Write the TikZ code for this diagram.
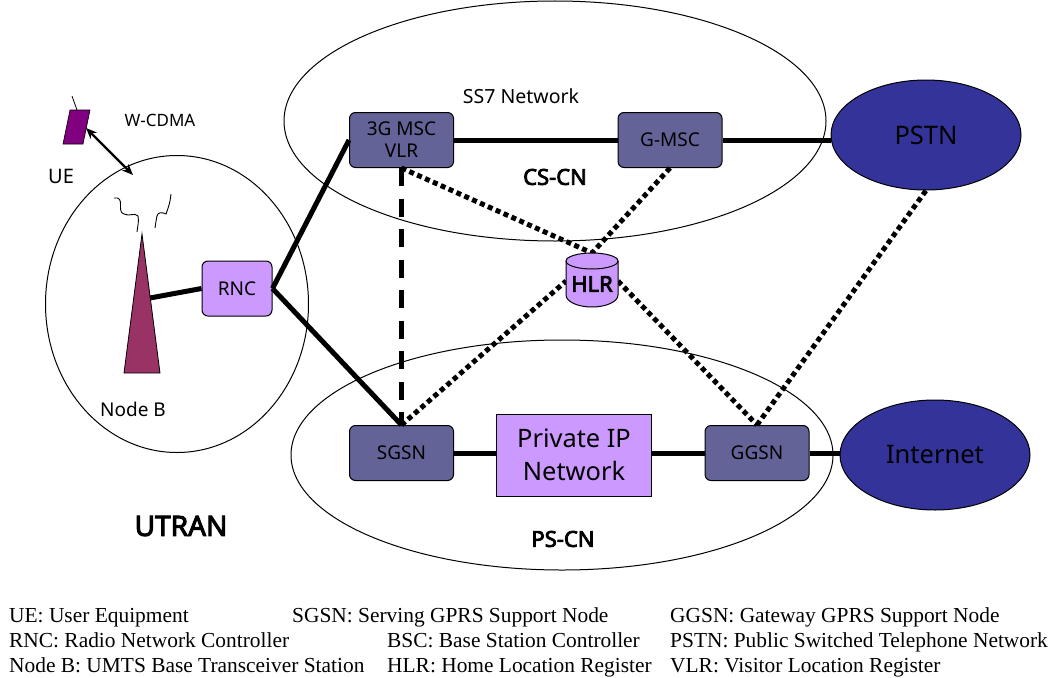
\documentclass[tikz,border=0pt]{standalone}
\usepackage{fontspec}
\setmainfont{Noto Sans}
\newfontfamily\legendfont{Liberation Serif}
\newfontfamily\fakebold[FakeBold=3.5]{Noto Sans}
\usetikzlibrary{shapes.geometric,arrows.meta}
\definecolor{slateb}{HTML}{636398}
\definecolor{lilac}{HTML}{CC99FF}
\definecolor{navyb}{HTML}{333399}
\definecolor{plum}{HTML}{800080}
\definecolor{wine}{HTML}{993366}
\tikzset{
 x=1pt,y=-1pt,
 region/.style={draw=black,line width=1pt,ellipse,inner sep=0pt,fill=none},
 cloudnet/.style={draw=black,line width=1pt,ellipse,fill=navyb,inner sep=0pt},
 corebox/.style={draw=black,line width=1pt,rounded corners=6pt,fill=slateb,minimum width=104pt,minimum height=55pt,inner sep=0pt,align=center,font=\fontsize{19}{22}\selectfont},
 rnc/.style={draw=black,line width=1pt,rounded corners=6pt,fill=lilac,minimum width=70pt,minimum height=55pt,inner sep=0pt,font=\fontsize{19}{22}\selectfont},
 ipbox/.style={draw=black,line width=1pt,fill=lilac,minimum width=155pt,minimum height=82pt,inner sep=0pt,align=center,font=\fontsize{25.4}{33}\selectfont},
 lab/.style={inner sep=0pt},
 leg/.style={inner sep=0pt,anchor=base west,font=\legendfont\fontsize{21.4}{24}\selectfont},
 thick line/.style={line width=5pt},
 dotline/.style={line width=5pt,dash pattern=on 5pt off 3.6pt},
 dashline/.style={line width=5pt,dash pattern=on 18pt off 12.5pt},
}
\begin{document}
\begin{tikzpicture}
\useasboundingbox (0,0) rectangle (1051,677);
\fill[white] (0,0) rectangle (1051,677);
% regions
\node[region,minimum width=263pt,minimum height=297pt] (utran) at (177,304) {};
\node[region,minimum width=542pt,minimum height=240pt] (cs) at (555,121) {};
\node[region,minimum width=542pt,minimum height=230pt] (ps) at (562,455) {};
% nodes
\node[cloudnet,minimum width=190pt,minimum height=110pt,font=\fontsize{25.5}{28}\selectfont] (pstn) at (926,135) {PSTN};
\node[cloudnet,minimum width=190pt,minimum height=110pt,font=\fontsize{25.5}{28}\selectfont] (inet) at (935,455) {Internet};
\node[corebox] (msc) at (401.5,140) {3G MSC\\VLR};
\node[corebox] (gmsc) at (670,140) {G-MSC};
\node[corebox] (sgsn) at (401.5,453) {SGSN};
\node[corebox] (ggsn) at (757,453) {GGSN};
\node[ipbox] (ip) at (574,455) {Private IP\\Network};
\node[rnc] (rncn) at (237,288.5) {RNC};
% tower
\coordinate (towertop) at (142,234);
\coordinate (towerbase) at (150,298);
\fill[wine,draw=black,line width=0.8pt] (towertop) -- (160,373) -- (124,373) -- cycle;
% HLR anchor points
\coordinate (hlrtop) at (592,253);
\coordinate (hlrw) at (566,281);
\coordinate (hlre) at (618,281);
% connectors
\draw[thick line] (towerbase) -- (rncn.west);
\draw[thick line] (rncn.east) -- (msc.west);
\draw[thick line] (rncn.east) -- (sgsn.north);
\draw[thick line] (msc.east) -- (gmsc.west);
\draw[thick line] (gmsc.east) -- (pstn.west |- gmsc.east);
\draw[thick line] (sgsn.east) -- (ip.west |- sgsn.east);
\draw[thick line] (ip.east |- ggsn.west) -- (ggsn.west);
\draw[thick line] (ggsn.east) -- (inet.west |- ggsn.east);
\draw[dashline] (msc.south) -- (sgsn.north);
\draw[dotline] (msc.south) -- (hlrtop);
\draw[dotline] (gmsc.south) -- (hlrtop);
\draw[dotline] (sgsn.north) -- (hlrw);
\draw[dotline] (hlre) -- (ggsn.north);
\draw[dotline] (ggsn.north) -- (pstn.south);
% HLR cylinder
\draw[line width=1pt,fill=lilac] (566,261) -- (566,295)
  .. controls (566,301.6) and (577.6,307) .. (592,307)
  .. controls (606.4,307) and (618,301.6) .. (618,295)
  -- (618,261)
  .. controls (618,256.6) and (606.4,253) .. (592,253)
  .. controls (577.6,253) and (566,256.6) .. (566,261) -- cycle;
\draw[line width=1pt] (566,261) .. controls (566,265.4) and (577.6,269) .. (592,269)
  .. controls (606.4,269) and (618,265.4) .. (618,261);
\node[inner sep=0pt,font=\fakebold\fontsize{22}{24}\selectfont] (hlr) at (592,284) {HLR};
% UE
\coordinate (uetop) at (72,96);
\coordinate (uemid) at (77,110);
\draw[line width=0.8pt] (uetop) -- (uemid);
\fill[plum,draw=black,line width=0.6pt] (70,110) -- (90,110) -- (83,144) -- (63,144) -- cycle;
\coordinate (uearrow) at (86,128);
\coordinate (btsarrow) at (133,175);
\draw[{Stealth[length=11pt,width=9pt]}-{Stealth[length=11pt,width=9pt]},line width=2.4pt] (uearrow) -- (btsarrow);
% antenna waves
\draw[line width=0.9pt] (114,198) .. controls (126,196) and (116,212) .. (124,214) .. controls (130,217) and (134,212) .. (138,216) .. controls (139,222) and (138,224) .. (137,232);
\draw[line width=0.9pt] (171,194) .. controls (170,204) and (168,208) .. (166,214) .. controls (162,212) and (158,212) .. (157,216) .. controls (156,220) and (156,222) .. (155,228);
% labels
\node[lab,font=\fontsize{17}{19}\selectfont] (wcdma) at (160,120.5) {W-CDMA};
\node[lab,font=\fontsize{20}{23}\selectfont] (ue) at (61,176) {UE};
\node[lab,font=\fontsize{19}{22}\selectfont] (nodeb) at (133,409) {Node B};
\node[lab,font=\fakebold\fontsize{28}{30}\selectfont] (utr) at (181,526) {UTRAN};
\node[lab,font=\fontsize{19.5}{22}\selectfont] (ss7) at (521,96) {SS7 Network};
\node[lab,font=\fakebold\fontsize{22}{24}\selectfont] (cscn) at (555,177) {CS-CN};
\node[lab,font=\fakebold\fontsize{22}{24}\selectfont] (pscn) at (563,539) {PS-CN};
% legend
\node[leg] (l1) at (9,622) {UE: User Equipment};
\node[leg] (l2) at (9,647) {RNC: Radio Network Controller};
\node[leg] (l3) at (9,672) {Node B: UMTS Base Transceiver Station};
\node[leg] (l4) at (292,622) {SGSN: Serving GPRS Support Node};
\node[leg] (l5) at (387,647) {BSC: Base Station Controller};
\node[leg] (l6) at (387,672) {HLR: Home Location Register};
\node[leg] (l7) at (670,622) {GGSN: Gateway GPRS Support Node};
\node[leg] (l8) at (670,647) {PSTN: Public Switched Telephone Network};
\node[leg] (l9) at (670,672) {VLR: Visitor Location Register};
\end{tikzpicture}
\end{document}
